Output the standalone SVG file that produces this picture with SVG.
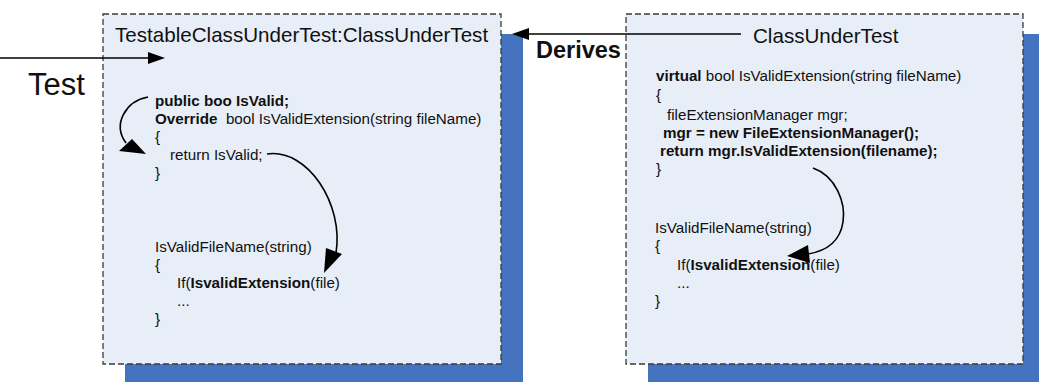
<svg xmlns="http://www.w3.org/2000/svg" width="1039" height="382" viewBox="0 0 1039 382">
<defs>
<style>
.shadow{fill:#4673BF;}
.box{fill:#E8EEF8;stroke:#3a3a3a;stroke-width:1.3;stroke-dasharray:6,3;}
.title{font-family:"Liberation Sans",Arial,sans-serif;font-size:20.6px;fill:#111;}
.code{font-family:"Liberation Sans",Arial,sans-serif;font-size:15.2px;fill:#111;white-space:pre;}
.b{font-weight:bold;}
.conn{fill:none;stroke:#000;stroke-width:1.6;}
.head{fill:#000;}
</style>
</defs>
<rect width="1039" height="382" fill="#fff"/>
<g id="node-testable">
<rect class="shadow" x="125" y="34" width="398" height="352"/>
<rect class="box" x="103" y="14" width="398" height="350"/>
<text class="title" x="115" y="42">TestableClassUnderTest:ClassUnderTest</text>
<text class="code b" x="155" y="106">public boo IsValid;</text>
<text class="code" x="155" y="124" xml:space="preserve"><tspan class="b">Override</tspan>  bool IsValidExtension(string fileName)</text>
<text class="code" x="155" y="142">{</text>
<text class="code" x="170" y="160">return IsValid;</text>
<text class="code" x="155" y="178">}</text>
<text class="code" x="155" y="252">IsValidFileName(string)</text>
<text class="code" x="155" y="270">{</text>
<text class="code" x="177" y="288">If(<tspan class="b">IsvalidExtension</tspan>(file)</text>
<text class="code" x="177" y="306">...</text>
<text class="code" x="155" y="324">}</text>
</g>
<g id="node-classundertest">
<rect class="shadow" x="648" y="34" width="400" height="352"/>
<rect class="box" x="626" y="14" width="397" height="350"/>
<text class="title" x="753" y="43">ClassUnderTest</text>
<text class="code" x="656" y="81"><tspan class="b">virtual</tspan> bool IsValidExtension(string fileName)</text>
<text class="code" x="656" y="100">{</text>
<text class="code" x="667" y="120">fileExtensionManager mgr;</text>
<text class="code b" x="663" y="138">mgr = new FileExtensionManager();</text>
<text class="code b" x="660" y="156">return mgr.IsValidExtension(filename);</text>
<text class="code" x="656" y="174">}</text>
<text class="code" x="655" y="233">IsValidFileName(string)</text>
<text class="code" x="655" y="251">{</text>
<text class="code" x="677" y="270">If(<tspan class="b">IsvalidExtension</tspan>(file)</text>
<text class="code" x="677" y="288">...</text>
<text class="code" x="655" y="306">}</text>
</g>
<g id="node-test">
<text x="28" y="95" font-family="Liberation Sans,Arial,sans-serif" font-size="31" fill="#111">Test</text>
</g>
<g id="label-derives">
<text x="536" y="58" font-family="Liberation Sans,Arial,sans-serif" font-size="23.5" font-weight="bold" fill="#111">Derives</text>
</g>
<g id="connectors">
<line class="conn" x1="0" y1="58" x2="150" y2="58"/>
<polygon class="head" points="165,58 148,52 148,64"/>
<line class="conn" x1="741" y1="34" x2="528" y2="34"/>
<polygon class="head" points="512,34 529,28 529,40"/>
<path class="conn" d="M148,97 C126,101 112,124 126,143"/>
<polygon class="head" points="146,154 119,151 132,139"/>
<path class="conn" d="M267,154 C308,148 344,205 336,253"/>
<polygon class="head" points="324,273 326,248 342,254"/>
<path class="conn" d="M813,168 C836,176 846,203 843,222 C840,242 826,251 808,254"/>
<polygon class="head" points="787,256 808,245 810,263"/>
</g>
</svg>
